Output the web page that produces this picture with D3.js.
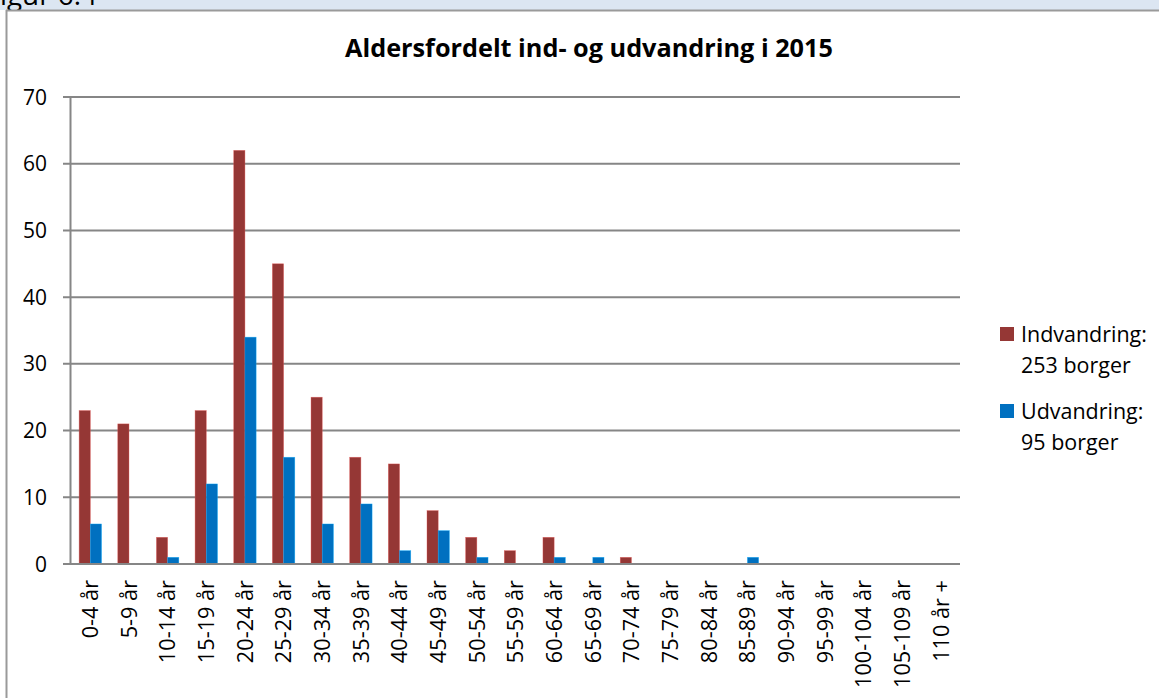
<!DOCTYPE html>
<html><head><meta charset="utf-8">
<script src="https://cdn.jsdelivr.net/npm/d3@7"></script>
<style>
html,body{margin:0;padding:0;background:#fff;overflow:hidden}
text{font-family:"Open Sans","Noto Sans",sans-serif;fill:#000}
</style></head>
<body><svg id="c" width="1159" height="698"></svg>
<script>
const categories = ["0-4 år","5-9 år","10-14 år","15-19 år","20-24 år","25-29 år","30-34 år","35-39 år","40-44 år","45-49 år","50-54 år","55-59 år","60-64 år","65-69 år","70-74 år","75-79 år","80-84 år","85-89 år","90-94 år","95-99 år","100-104 år","105-109 år","110 år +"];
const indvandring = [23,21,4,23,62,45,25,16,15,8,4,2,4,0,1,0,0,0,0,0,0,0,0];
const udvandring  = [6,0,1,12,34,16,6,9,2,5,1,0,1,1,0,0,0,1,0,0,0,0,0];
const yTicks = [0,10,20,30,40,50,60,70];
const seriesNames = ["Indvandring:","Udvandring:"];
const seriesSub = ["253 borger","95 borger"];
const colors = ["#953735","#0070c0"];
const title = "Aldersfordelt ind- og udvandring i 2015";
const figLabel = "Figur 6.4";

const svg = d3.select("#c");
function textW(str, size, weight){
  const t = svg.append("text").attr("font-size",size).attr("font-weight",weight||"normal").text(str);
  const w = t.node().getComputedTextLength(); t.remove(); return w;
}
function fitSize(str, target, weight){ return 100*target/textW(str,100,weight); }

svg.append("rect").attr("x",0).attr("y",0).attr("width",1159).attr("height",10).attr("fill","#dce6f2");
const ffs = fitSize("igur 6.4",97);
svg.append("text").attr("x",-textW("F",ffs)).attr("y",5).attr("font-size",ffs).text(figLabel);
svg.append("rect").attr("x",6).attr("y",10).attr("width",1153).attr("height",688).attr("fill","#fff");
svg.append("line").attr("x1",6).attr("x2",1159).attr("y1",10.5).attr("y2",10.5).attr("stroke","#9a9a9a").attr("stroke-width",2);
svg.append("line").attr("x1",6.5).attr("x2",6.5).attr("y1",10).attr("y2",698).attr("stroke","#9a9a9a").attr("stroke-width",2);

const L=71, R=960, T=97, B=564;
const x = d3.scaleBand().domain(categories).range([L,R]).paddingInner(0).paddingOuter(0);
const y = d3.scaleLinear().domain([0,70]).range([B,T]);
const bw = 11.2;

const g = svg.append("g");
g.selectAll("line.grid").data(yTicks).join("line")
 .attr("x1",63).attr("x2",R).attr("y1",d=>y(d)).attr("y2",d=>y(d))
 .attr("stroke","#868686").attr("stroke-width",2);
g.append("line").attr("x1",L-0.5).attr("x2",L-0.5).attr("y1",T).attr("y2",B).attr("stroke","#868686").attr("stroke-width",2);

const yfs = fitSize("70",24);
g.selectAll("text.yl").data(yTicks).join("text")
 .attr("x",47).attr("y",d=>y(d)).attr("dy","0.36em").attr("text-anchor","end").attr("font-size",yfs).text(d=>d);

const series=[indvandring,udvandring];
series.forEach((vals,si)=>{
  svg.append("g").selectAll("rect").data(vals.map((v,i)=>({c:categories[i],v}))).join("rect")
   .attr("x",d=>x(d.c)+x.bandwidth()/2-bw+si*bw)
   .attr("width",bw)
   .attr("y",d=>y(d.v)).attr("height",d=>B-y(d.v))
   .attr("fill",colors[si])
   .attr("stroke",d3.color(colors[si]).brighter(1.2)).attr("stroke-width",d=>d.v>0?0.6:0).attr("stroke-opacity",0.6);
});
svg.append("line").attr("x1",63).attr("x2",R).attr("y1",B).attr("y2",B).attr("stroke","#868686").attr("stroke-width",2);

const xfs = fitSize("100-104 år",108);
svg.append("g").selectAll("text").data(categories).join("text")
 .attr("transform",d=>`translate(${x(d)+x.bandwidth()/2},580) rotate(-90)`)
 .attr("text-anchor","end").attr("dy","0.36em").attr("font-size",xfs).text(d=>d);

svg.append("text").attr("x",589).attr("y",48).attr("dy","0.36em").attr("text-anchor","middle")
 .attr("font-size",fitSize(title,488,"bold")).attr("font-weight","bold").text(title);

const lfs = fitSize("Indvandring:",126);
const leg = svg.append("g");
[0,1].forEach(i=>{
  const yy = [334,411][i];
  leg.append("rect").attr("x",1000).attr("y",yy-7).attr("width",14).attr("height",14).attr("fill",colors[i]);
  leg.append("text").attr("x",1021).attr("y",yy).attr("dy","0.36em").attr("font-size",lfs).text(seriesNames[i]);
  leg.append("text").attr("x",1021).attr("y",yy+31).attr("dy","0.36em").attr("font-size",lfs).text(seriesSub[i]);
});
</script></body></html>
